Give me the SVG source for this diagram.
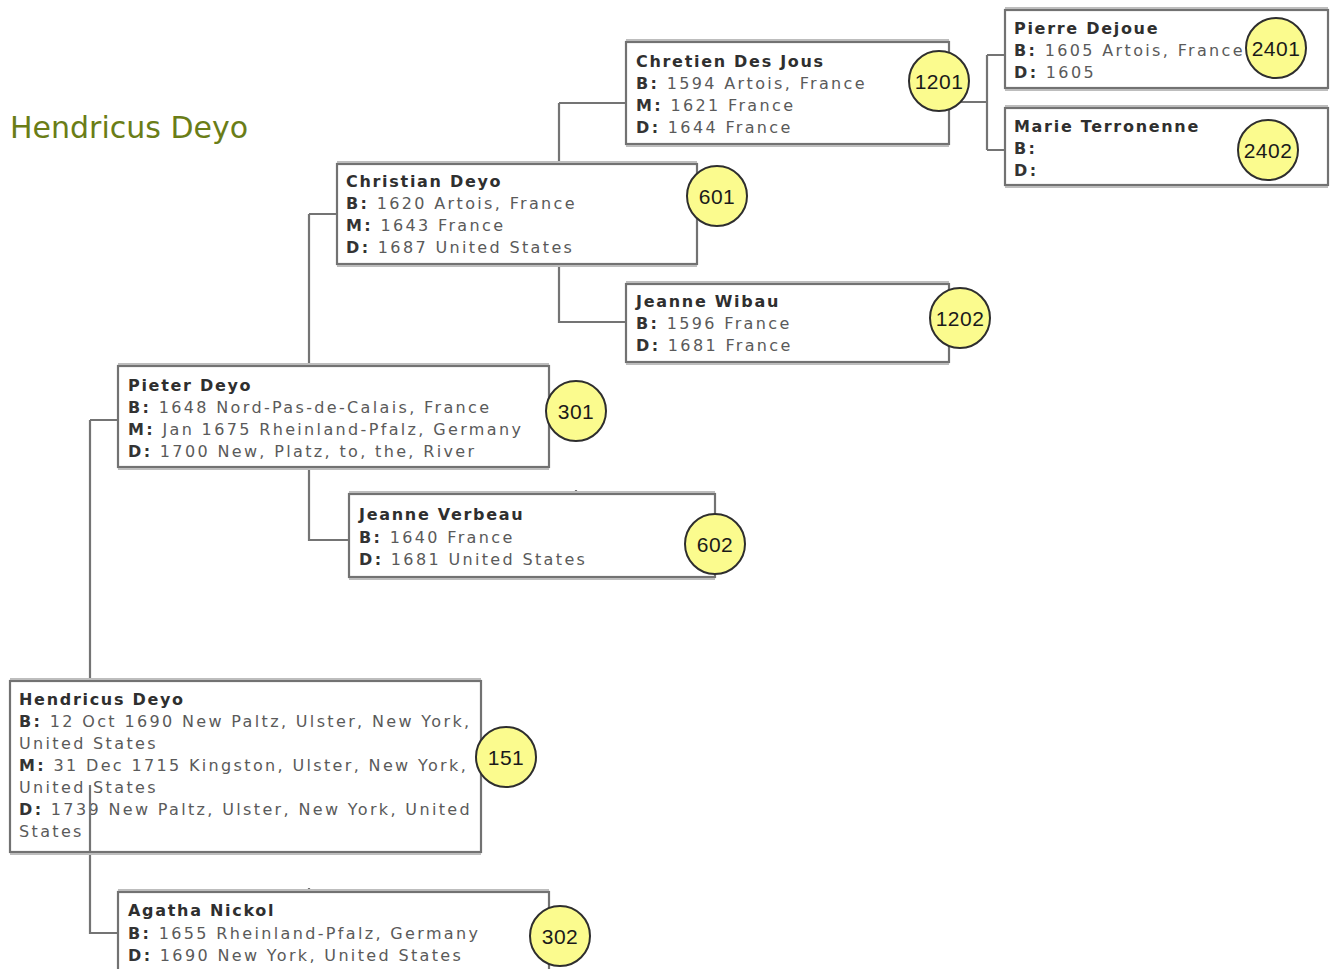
<svg xmlns="http://www.w3.org/2000/svg" width="1332" height="969" viewBox="0 0 1332 969">
<style>
.bg{fill:#ffffff}
.box{fill:#ffffff;stroke:#727272;stroke-width:2.2}
.hl{stroke:#bdbdbd;stroke-width:2;fill:none}
.con{stroke:#747474;stroke-width:2.2;fill:none}
.badge{fill:#fbfb8e;stroke:#2e2e2e;stroke-width:2}
.num{font-family:"Liberation Sans",Arial,sans-serif;font-size:21px;fill:#1a1a1a;text-anchor:middle;letter-spacing:0.5px}
.t{font-family:"DejaVu Sans",Verdana,sans-serif;font-size:16px;fill:#5a5a5a;letter-spacing:2.35px}
.n{font-weight:bold;fill:#2f2f2f;letter-spacing:1.7px}
.l{font-weight:bold;fill:#333333}
.title{font-family:"DejaVu Sans",Verdana,sans-serif;font-size:30px;fill:#6a7d17}
</style>
<rect class="bg" x="0" y="0" width="1332" height="969"/>
<text class="title" x="10" y="138">Hendricus Deyo</text>

<g id="connectors">
<path class="con" d="M90 420 H118 M90 420 V681 M90 785 V933 H118"/>
<path class="con" d="M309 214 H337 M309 214 V366 M309 467 V540 H349"/>
<path class="con" d="M559 103 H626 M559 103 V164 M559 264 V322 H626"/>
<path class="con" d="M949 102 H987 M987 55 V150 M987 55 H1005 M987 150 H1005"/>
<path class="con" d="M576 490 V494 M309 888 V892"/>
</g>

<g id="n1201">
<rect class="box" x="626" y="42" width="323" height="102"/>
<line class="hl" x1="626" y1="40" x2="949" y2="40"/>
<line class="hl" x1="626" y1="146" x2="949" y2="146"/>
<text class="t n" x="636" y="67">Chretien Des Jous</text>
<text class="t" x="636" y="89"><tspan class="l">B:</tspan> 1594 Artois, France</text>
<text class="t" x="636" y="111"><tspan class="l">M:</tspan> 1621 France</text>
<text class="t" x="636" y="133"><tspan class="l">D:</tspan> 1644 France</text>
<circle class="badge" cx="939" cy="81" r="30"/>
<text class="num" x="939" y="89">1201</text>
</g>

<g id="n2401">
<rect class="box" x="1005" y="10" width="323" height="78"/>
<line class="hl" x1="1005" y1="8" x2="1328" y2="8"/>
<line class="hl" x1="1005" y1="90" x2="1328" y2="90"/>
<text class="t n" x="1014" y="34">Pierre Dejoue</text>
<text class="t" x="1014" y="56"><tspan class="l">B:</tspan> 1605 Artois, France</text>
<text class="t" x="1014" y="78"><tspan class="l">D:</tspan> 1605</text>
<circle class="badge" cx="1276" cy="48" r="30"/>
<text class="num" x="1276" y="56">2401</text>
</g>

<g id="n2402">
<rect class="box" x="1005" y="108" width="323" height="77"/>
<line class="hl" x1="1005" y1="106" x2="1328" y2="106"/>
<line class="hl" x1="1005" y1="187" x2="1328" y2="187"/>
<text class="t n" x="1014" y="132">Marie Terronenne</text>
<text class="t" x="1014" y="154"><tspan class="l">B:</tspan></text>
<text class="t" x="1014" y="176"><tspan class="l">D:</tspan></text>
<circle class="badge" cx="1268" cy="150" r="30"/>
<text class="num" x="1268" y="158">2402</text>
</g>

<g id="n601">
<rect class="box" x="337" y="164" width="360" height="100"/>
<line class="hl" x1="337" y1="162" x2="697" y2="162"/>
<line class="hl" x1="337" y1="266" x2="697" y2="266"/>
<text class="t n" x="346" y="187">Christian Deyo</text>
<text class="t" x="346" y="209"><tspan class="l">B:</tspan> 1620 Artois, France</text>
<text class="t" x="346" y="231"><tspan class="l">M:</tspan> 1643 France</text>
<text class="t" x="346" y="253"><tspan class="l">D:</tspan> 1687 United States</text>
<circle class="badge" cx="717" cy="196" r="30"/>
<text class="num" x="717" y="204">601</text>
</g>

<g id="n1202">
<rect class="box" x="626" y="284" width="323" height="78"/>
<line class="hl" x1="626" y1="282" x2="949" y2="282"/>
<line class="hl" x1="626" y1="364" x2="949" y2="364"/>
<text class="t n" x="636" y="307">Jeanne Wibau</text>
<text class="t" x="636" y="329"><tspan class="l">B:</tspan> 1596 France</text>
<text class="t" x="636" y="351"><tspan class="l">D:</tspan> 1681 France</text>
<circle class="badge" cx="960" cy="318" r="30"/>
<text class="num" x="960" y="326">1202</text>
</g>

<g id="n301">
<rect class="box" x="118" y="366" width="431" height="101"/>
<line class="hl" x1="118" y1="364" x2="549" y2="364"/>
<line class="hl" x1="118" y1="469" x2="549" y2="469"/>
<text class="t n" x="128" y="391">Pieter Deyo</text>
<text class="t" x="128" y="413"><tspan class="l">B:</tspan> 1648 Nord-Pas-de-Calais, France</text>
<text class="t" x="128" y="435"><tspan class="l">M:</tspan> Jan 1675 Rheinland-Pfalz, Germany</text>
<text class="t" x="128" y="457"><tspan class="l">D:</tspan> 1700 New, Platz, to, the, River</text>
<circle class="badge" cx="576" cy="411" r="30"/>
<text class="num" x="576" y="419">301</text>
</g>

<g id="n602">
<rect class="box" x="349" y="494" width="366" height="83"/>
<line class="hl" x1="349" y1="492" x2="715" y2="492"/>
<line class="hl" x1="349" y1="579" x2="715" y2="579"/>
<text class="t n" x="359" y="520">Jeanne Verbeau</text>
<text class="t" x="359" y="543"><tspan class="l">B:</tspan> 1640 France</text>
<text class="t" x="359" y="565"><tspan class="l">D:</tspan> 1681 United States</text>
<circle class="badge" cx="715" cy="544" r="30"/>
<text class="num" x="715" y="552">602</text>
</g>

<g id="n151">
<rect class="box" x="10" y="681" width="471" height="171"/>
<line class="hl" x1="10" y1="679" x2="481" y2="679"/>
<line class="hl" x1="10" y1="854" x2="481" y2="854"/>
<text class="t n" x="19" y="705">Hendricus Deyo</text>
<text class="t" x="19" y="727"><tspan class="l">B:</tspan> 12 Oct 1690 New Paltz, Ulster, New York,</text>
<text class="t" x="19" y="749">United States</text>
<text class="t" x="19" y="771"><tspan class="l">M:</tspan> 31 Dec 1715 Kingston, Ulster, New York,</text>
<text class="t" x="19" y="793">United States</text>
<text class="t" x="19" y="815"><tspan class="l">D:</tspan> 1739 New Paltz, Ulster, New York, United</text>
<text class="t" x="19" y="837">States</text>
<circle class="badge" cx="506" cy="757" r="30"/>
<text class="num" x="506" y="765">151</text>
<line class="con" x1="90" y1="785" x2="90" y2="852"/>
</g>

<g id="n302">
<rect class="box" x="118" y="892" width="431" height="90"/>
<line class="hl" x1="118" y1="890" x2="549" y2="890"/>
<text class="t n" x="128" y="916">Agatha Nickol</text>
<text class="t" x="128" y="939"><tspan class="l">B:</tspan> 1655 Rheinland-Pfalz, Germany</text>
<text class="t" x="128" y="961"><tspan class="l">D:</tspan> 1690 New York, United States</text>
<circle class="badge" cx="560" cy="936" r="30"/>
<text class="num" x="560" y="944">302</text>
</g>
</svg>
